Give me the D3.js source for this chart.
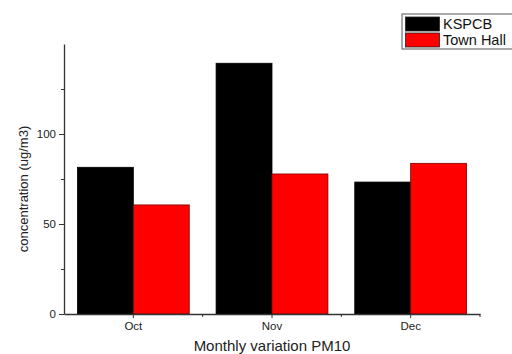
<!DOCTYPE html>
<html>
<head>
<meta charset="utf-8">
<script src="https://cdn.jsdelivr.net/npm/d3@7"></script>
<style>
  body { margin: 0; background: #fff; }
  svg { display: block; font-family: "Liberation Sans", Arial, sans-serif; }
  .axis path, .axis line { stroke: #333; }
  .axis text { fill: #222; font-size: 11.5px; }
</style>
</head>
<body>
<div id="plot-container"></div>
<script>
const months = ["Oct", "Nov", "Dec"];
const series = ["KSPCB", "Town Hall"];
const kspcb = [81.5, 139.3, 73.3];
const townHall = [60.6, 77.8, 83.7];
const majorTicks = [0, 50, 100];
const minorTicks = [25, 75, 125];

const width = 512, height = 354;
const plot = { left: 64, right: 480, top: 44, bottom: 314 };

const svg = d3.select("#plot-container")
    .append("svg")
    .attr("width", width)
    .attr("height", height);

const xScale = d3.scaleBand()
    .domain(months)
    .range([plot.left, plot.right])
    .padding(0);

const xSub = d3.scaleBand()
    .domain(series)
    .range([0, xScale.bandwidth()])
    .paddingInner(0)
    .paddingOuter(0.24);

const yScale = d3.scaleLinear()
    .domain([0, 150])
    .range([plot.bottom, plot.top]);

const colorScale = d3.scaleOrdinal()
    .domain(series)
    .range(["#000000", "#ff0000"]);
const strokeScale = d3.scaleOrdinal()
    .domain(series)
    .range(["#000000", "#7a0000"]);

const rows = months.map((m, i) => ({ month: m, values: [
    { key: "KSPCB", value: kspcb[i] },
    { key: "Town Hall", value: townHall[i] }
] }));

// bars
const groups = svg.selectAll(".bar")
    .data(rows)
    .enter()
    .append("g")
    .attr("class", "bar")
    .attr("transform", d => `translate(${xScale(d.month)},0)`);

groups.selectAll("rect")
    .data(d => d.values)
    .enter()
    .append("rect")
    .attr("x", d => xSub(d.key))
    .attr("y", d => yScale(d.value))
    .attr("width", xSub.bandwidth())
    .attr("height", d => yScale(0) - yScale(d.value))
    .attr("fill", d => colorScale(d.key))
    .attr("stroke", d => strokeScale(d.key))
    .attr("stroke-width", 0.8);

// y axis
svg.append("g")
    .attr("class", "axis")
    .attr("transform", `translate(${plot.left},0)`)
    .call(d3.axisLeft(yScale).tickValues(majorTicks).tickSize(5).tickSizeOuter(0).tickPadding(3))
    .call(g => g.select(".domain").attr("stroke-width", 1.3));

svg.append("g")
    .attr("class", "axis")
    .attr("transform", `translate(${plot.left},0)`)
    .call(d3.axisLeft(yScale).tickValues(minorTicks).tickSize(3).tickFormat(""))
    .call(g => g.select(".domain").remove());

// x axis
svg.append("g")
    .attr("class", "axis")
    .attr("transform", `translate(0,${plot.bottom})`)
    .call(d3.axisBottom(xScale).tickSize(4).tickSizeOuter(0).tickPadding(4))
    .call(g => g.select(".domain").attr("stroke-width", 1.3));

const edges = months.map(m => xScale(m) + xScale.bandwidth());
svg.append("g")
    .attr("class", "axis")
    .selectAll("line")
    .data(edges)
    .enter()
    .append("line")
    .attr("x1", d => d).attr("x2", d => d)
    .attr("y1", plot.bottom).attr("y2", plot.bottom + 3);

// axis titles
svg.append("text")
    .attr("text-anchor", "middle")
    .attr("x", 272)
    .attr("y", 351)
    .attr("font-size", 15)
    .attr("fill", "#222")
    .text("Monthly variation PM10");

svg.append("text")
    .attr("text-anchor", "middle")
    .attr("transform", "translate(28,189) rotate(-90)")
    .attr("font-size", 13)
    .attr("fill", "#222")
    .text("concentration (ug/m3)");

// legend
const legend = svg.append("g").attr("transform", "translate(402,14)");
legend.append("rect")
    .attr("x", 0).attr("y", 0)
    .attr("width", 120).attr("height", 35)
    .attr("fill", "#fff")
    .attr("stroke", "#555")
    .attr("stroke-width", 1);

legend.selectAll(".swatch")
    .data(series)
    .enter()
    .append("rect")
    .attr("class", "swatch")
    .attr("x", 3.5)
    .attr("y", (d, i) => 3 + i * 16)
    .attr("width", 34)
    .attr("height", 14)
    .attr("fill", d => colorScale(d))
    .attr("stroke", "#222")
    .attr("stroke-width", 0.8);

legend.selectAll(".label")
    .data(series)
    .enter()
    .append("text")
    .attr("class", "label")
    .attr("x", 41)
    .attr("y", (d, i) => 15 + i * 16)
    .attr("font-size", 14.5)
    .attr("fill", "#111")
    .text(d => d);
</script>
</body>
</html>
